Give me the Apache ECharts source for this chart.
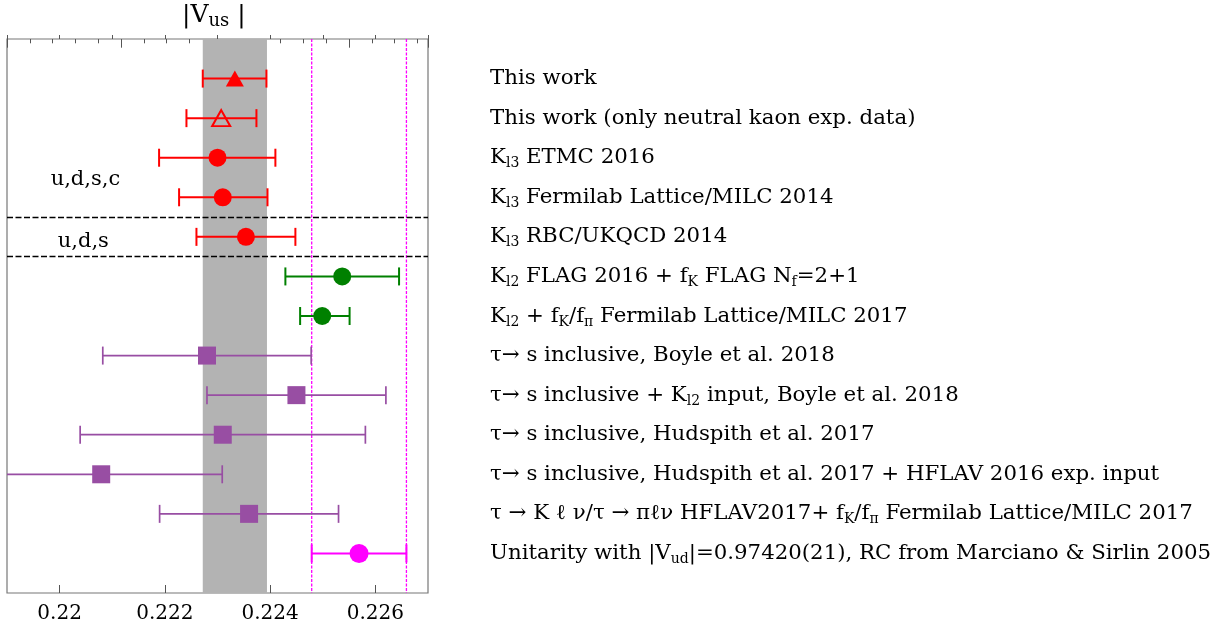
<!DOCTYPE html>
<html><head><meta charset="utf-8">
<script src="https://cdn.jsdelivr.net/npm/echarts@6/dist/echarts.min.js"></script>
<style>html,body{margin:0;padding:0;background:#fff}#c{width:1222px;height:628px}</style>
</head><body><div id="c"></div>
<script>
// ---- data ----
const rowLabels = [
  'This work',
  'This work (only neutral kaon exp. data)',
  'K{s|l3} ETMC 2016',
  'K{s|l3} Fermilab Lattice/MILC 2014',
  'K{s|l3} RBC/UKQCD 2014',
  'K{s|l2} FLAG 2016 + f{s|K} FLAG N{s|f}=2+1',
  'K{s|l2} + f{s|K}/f{s|π} Fermilab Lattice/MILC 2017',
  'τ→ s inclusive, Boyle et al. 2018',
  'τ→ s inclusive + K{s|l2} input, Boyle et al. 2018',
  'τ→ s inclusive, Hudspith et al. 2017',
  'τ→ s inclusive, Hudspith et al. 2017 + HFLAV 2016 exp. input',
  'τ → K ℓ ν/τ → πℓν HFLAV2017+ f{s|K}/f{s|π} Fermilab Lattice/MILC 2017',
  'Unitarity with |V{s|ud}|=0.97420(21), RC from Marciano & Sirlin 2005'
];
const centers = [0.22333, 0.22307, 0.22300, 0.22310, 0.22354, 0.22537, 0.22499, 0.22280, 0.22450, 0.22310, 0.22079, 0.22360, 0.22569];
const lower   = [0.22272, 0.22241, 0.22189, 0.22227, 0.22260, 0.22429, 0.22457, 0.22082, 0.22280, 0.22039, 0.21849, 0.22190, 0.22479];
const upper   = [0.22393, 0.22374, 0.22410, 0.22395, 0.22448, 0.22645, 0.22551, 0.22478, 0.22620, 0.22581, 0.22309, 0.22530, 0.22659];
const groups  = ['thisWork','neutral','lattice','lattice','lattice','kl2','kl2','tau','tau','tau','tau','tau','unitarity'];
const bandRange = [0.22272, 0.22394];
const unitarityLines = [0.22479, 0.22659];
const separators = [4.5, 5.5];
const annotations = [['u,d,s,c', 0.22049, 3.56], ['u,d,s', 0.22045, 5.12]];
const tickLabels = ['0.22', '0.222', '0.224', '0.226'];
const xMin = 0.219, xMax = 0.227;
const yMin = 0, yMax = 14;

// ---- styles ----
const serif = "'DejaVu Serif', serif";
const styleOf = {
  thisWork:  {color:'#ff0000', symbol:'triangle', size:[18,16], open:false, lw:2},
  neutral:   {color:'#ff0000', symbol:'triangle', size:[18,16], open:true,  lw:2},
  lattice:   {color:'#ff0000', symbol:'circle', size:18, open:false, lw:2},
  kl2:       {color:'#008000', symbol:'circle', size:18, open:false, lw:2},
  tau:       {color:'#984ea3', symbol:'rect', size:18, open:false, lw:1.7},
  unitarity: {color:'#ff00ff', symbol:'circle', size:19, open:false, lw:2}
};
const rows = centers.map((c, i) => i + 1);
const errData = centers.map((c, i) => [lower[i], upper[i], rows[i]]);

const markerSeries = Object.keys(styleOf).map(g => {
  const s = styleOf[g];
  return {
    type: 'scatter', z: 6, symbol: s.symbol, symbolSize: s.size,
    xAxisIndex: 0, yAxisIndex: 0, silent: true,
    itemStyle: s.open ? {color: 'rgba(0,0,0,0)', borderColor: s.color, borderWidth: 2, opacity: 1} : {color: s.color, opacity: 1},
    data: centers.map((c, i) => groups[i] === g ? [c, rows[i]] : null).filter(d => d)
  };
});

const chart = echarts.init(document.getElementById('c'), null, {renderer: 'canvas'});
chart.setOption({
  animation: false,
  backgroundColor: '#fff',
  title: {
    text: '|V{s|us} |', left: 182, top: 0, padding: 0,
    textStyle: {fontFamily: serif, fontSize: 25, fontWeight: 'normal', color: '#000', lineHeight: 30,
      rich: {s: {fontFamily: serif, fontSize: 18, color: '#000', verticalAlign: 'bottom', lineHeight: 18}}}
  },
  grid: {left: 7, top: 39, width: 421, height: 554, show: true, borderColor: '#777', borderWidth: 1.2, backgroundColor: 'transparent'},
  xAxis: [
    {type: 'value', min: xMin, max: xMax, interval: 0.001, position: 'bottom',
     axisLine: {show: false}, axisTick: {show: true, inside: true, length: 4, lineStyle: {color: '#555', width: 1}},
     axisLabel: {show: false}, splitLine: {show: false}},
    {type: 'category', data: tickLabels, boundaryGap: true, position: 'bottom',
     axisLine: {show: false}, axisTick: {show: true, inside: true, length: 8, alignWithLabel: true, lineStyle: {color: '#555', width: 1}},
     axisLabel: {show: true, interval: 0, margin: 11, fontFamily: serif, fontSize: 20, color: '#000'}, splitLine: {show: false}},
    {type: 'value', min: 0, max: 3.693, interval: 0.2, position: 'top',
     axisLine: {show: false}, axisTick: {show: true, inside: true, length: 4.3, lineStyle: {color: '#555', width: 1}},
     axisLabel: {show: false}, splitLine: {show: false}},
    {type: 'value', min: 0, max: 3.693, interval: 1, position: 'top',
     axisLine: {show: false}, axisTick: {show: true, inside: true, length: 8.7, lineStyle: {color: '#555', width: 1}},
     axisLabel: {show: false}, splitLine: {show: false}}
  ],
  yAxis: [{
    type: 'value', min: yMin, max: yMax, interval: 1, inverse: true, position: 'right',
    axisLine: {show: false}, axisTick: {show: false}, splitLine: {show: false},
    axisLabel: {
      show: true, margin: 62, align: 'left', fontFamily: serif, fontSize: 21.3, color: '#000', lineHeight: 26,
      formatter: v => rowLabels[v - 1] || '',
      rich: {s: {fontFamily: serif, fontSize: 14, color: '#000', verticalAlign: 'bottom', lineHeight: 14}}
    }
  }],
  series: [
    {type: 'scatter', z: 1, data: [], silent: true,
     markLine: {silent: true, symbol: ['none','none'], label: {show: false}, animation: false,
       lineStyle: {color: '#000', type: [6, 2.5], width: 1.3},
       data: separators.map(y => ({yAxis: y}))}},
    {type: 'scatter', z: 2, data: [], silent: true,
     markArea: {silent: true, itemStyle: {color: '#b3b3b3', opacity: 1},
       data: [[{xAxis: bandRange[0]}, {xAxis: bandRange[1]}]]}},
    {type: 'custom', z: 3, silent: true, clip: true,
     data: unitarityLines.map(x => [x]),
     renderItem: function (params, api) {
       const a = api.coord([api.value(0), yMin]);
       const b = api.coord([api.value(0), yMax]);
       return {type: 'line', shape: {x1: a[0], y1: a[1], x2: b[0], y2: b[1]},
         style: {stroke: '#ff00ff', lineWidth: 1.3, lineDash: [3, 1.5]}};
     }},
    {type: 'custom', z: 5, clip: true, data: errData, silent: true,
     renderItem: function (params, api) {
       const s = styleOf[groups[params.dataIndex]];
       const a = api.coord([api.value(0), api.value(2)]);
       const b = api.coord([api.value(1), api.value(2)]);
       const h = 9;
       const st = {stroke: s.color, lineWidth: s.lw, fill: null};
       return {type: 'group', children: [
         {type: 'line', shape: {x1: a[0], y1: a[1], x2: b[0], y2: b[1]}, style: st},
         {type: 'line', shape: {x1: a[0], y1: a[1] - h, x2: a[0], y2: a[1] + h}, style: st},
         {type: 'line', shape: {x1: b[0], y1: b[1] - h, x2: b[0], y2: b[1] + h}, style: st}
       ]};
     }},
    ...markerSeries,
    {type: 'scatter', z: 7, symbolSize: 0, silent: true, itemStyle: {opacity: 1},
     data: annotations.map(a => ({value: [a[1], a[2]], name: a[0]})),
     label: {show: true, position: 'inside', formatter: p => p.name, fontFamily: serif, fontSize: 21, color: '#000', opacity: 1}}
  ]
});
</script></body></html>
